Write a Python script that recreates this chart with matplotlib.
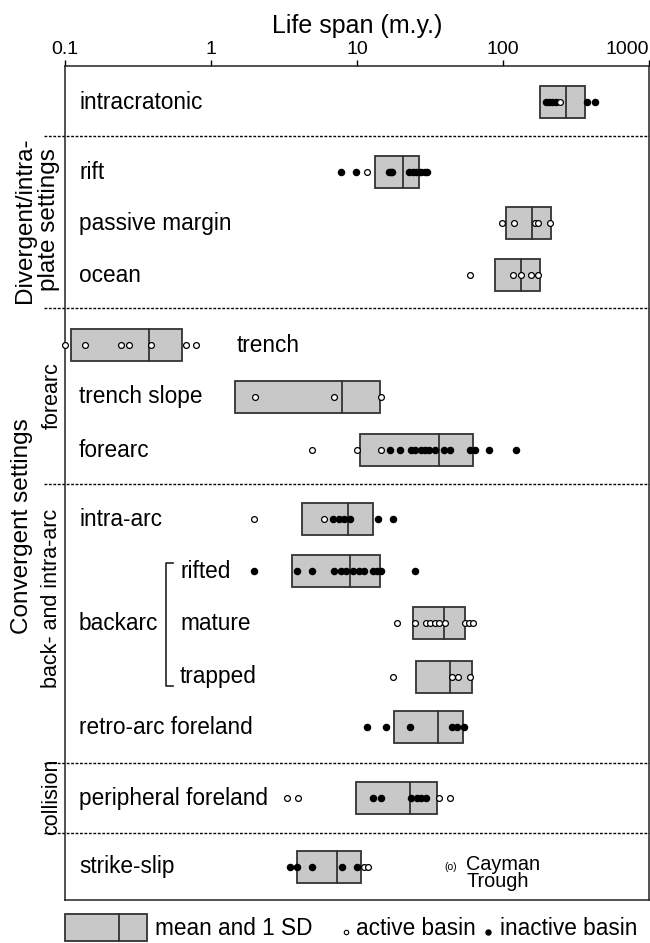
import matplotlib
matplotlib.use('Agg')
import matplotlib.pyplot as plt
import matplotlib.transforms as mtransforms
from matplotlib.patches import Rectangle
from matplotlib.lines import Line2D

plt.rcParams['font.family'] = ['Liberation Sans', 'DejaVu Sans']

# basin types, top to bottom
categories = ['intracratonic', 'rift', 'passive margin', 'ocean', 'trench', 'trench slope', 'forearc',
              'intra-arc', 'rifted', 'mature', 'trapped', 'retro-arc foreland', 'peripheral foreland',
              'strike-slip']

# mean and 1 SD range of life span (m.y.)
means = [272, 20.5, 159, 132, 0.377, 7.84, 36.2, 8.65, 9.0, 39.7, 43.5, 36.0, 22.9, 7.35]
sd_low = [179, 13.3, 105, 88, 0.11, 1.45, 10.5, 4.2, 3.56, 24.1, 25.2, 17.8, 9.8, 3.91]
sd_high = [364, 26.6, 212, 178, 0.63, 14.3, 62.1, 12.8, 14.3, 55.2, 60.9, 53.1, 35.1, 10.6]

# individual basins
active = [
    [244],
    [11.8],
    [98, 119, 166, 175, 211],
    [59, 117, 132, 155, 173],
    [0.1, 0.138, 0.243, 0.275, 0.39, 0.67, 0.79],
    [1.99, 6.92, 14.7],
    [4.92, 9.93, 14.7],
    [1.97, 5.95],
    [],
    [18.7, 24.8, 29.8, 31.8, 34.0, 36.2, 40.0, 54.5, 58.2, 62.5],
    [17.7, 44.8, 49.4, 59.3],
    [],
    [3.30, 3.94, 36.2, 43.2],
    [11.1, 11.9],
]
inactive = [
    [197, 207, 218, 229, 375, 425],
    [7.8, 9.9, 16.6, 17.0, 17.5, 22.8, 24.0, 25.2, 26.4, 27.6, 29.0, 30.3],
    [],
    [],
    [],
    [],
    [16.7, 19.8, 23.3, 24.9, 27.3, 29.3, 31.2, 34.0, 39.5, 43.2, 59.3, 64.1, 79.7, 123],
    [6.83, 7.54, 8.21, 8.94, 13.9, 17.7],
    [1.97, 3.91, 4.89, 6.92, 7.74, 8.37, 9.36, 10.3, 11.1, 12.9, 13.8, 14.5, 24.8],
    [],
    [],
    [11.8, 15.7, 22.9, 44.8, 48.7, 53.7],
    [12.8, 14.7, 23.6, 25.6, 27.5, 29.9],
    [3.47, 3.91, 4.92, 7.89, 9.93],
]
cayman_trough = 43.5

ticks = [0.1, 1, 10, 100, 1000]
tick_labels = ['0.1', '1', '10', '100', '1000']

# layout (pixels below axes top)
row_y = [36, 106, 157, 209, 279, 331, 384, 453, 505, 557, 611, 661, 732, 801]
sep_y = [70, 242, 418, 697, 767]
box_h = 32
W, H = 650, 943

fig = plt.figure(figsize=(W / 100, H / 100), dpi=100)
ax = fig.add_axes([65 / W, 1 - 900 / H, 584 / W, 834 / H])
ax.set_xscale('log')
ax.set_xlim(0.1, 1000)
ax.set_ylim(834, 0)

edge = '#333333'
for i, cat in enumerate(categories):
    y = row_y[i]
    ax.barh(y, sd_high[i] - sd_low[i], left=sd_low[i], height=box_h,
            color='#c8c8c8', edgecolor=edge, linewidth=1.3, zorder=2)
    ax.plot([means[i], means[i]], [y - box_h / 2, y + box_h / 2], color=edge, lw=1.3, zorder=3)
    if inactive[i]:
        ax.plot(inactive[i], [y] * len(inactive[i]), 'o', ms=4.4, mfc='black', mec='black',
                zorder=4, clip_on=False)
    if active[i]:
        ax.plot(active[i], [y] * len(active[i]), 'o', ms=4.2, mfc='white', mec='black',
                mew=0.9, zorder=5, clip_on=False)

# row labels
trans = mtransforms.blended_transform_factory(ax.transAxes, ax.transData)
lab_fs = 16.3
for i, cat in enumerate(categories):
    if cat == 'trench':
        ax.text(1.5, row_y[i], cat, fontsize=lab_fs, va='center', ha='left')
    elif cat in ('rifted', 'mature', 'trapped'):
        ax.text(0.197, row_y[i], cat, fontsize=lab_fs, va='center', ha='left', transform=trans)
    else:
        ax.text(0.024, row_y[i], cat, fontsize=lab_fs, va='center', ha='left', transform=trans)
ax.text(0.024, row_y[categories.index('mature')], 'backarc', fontsize=lab_fs, va='center',
        ha='left', transform=trans)

# backarc bracket
y0, y1 = 497, 620
ax.plot([0.185, 0.173, 0.173, 0.185], [y0, y0, y1, y1], color='#222222', lw=1.2,
        transform=trans, clip_on=False)

# Cayman Trough note
sy = row_y[categories.index('strike-slip')]
ax.text(cayman_trough, sy, '(o)', fontsize=7.5, ha='center', va='center')
ax.text(56, sy + 6, 'Cayman\nTrough', fontsize=14.3, ha='left', va='center', linespacing=0.85)

# group separators
for s in sep_y:
    ax.plot([-0.036, 1], [s, s], color='black', lw=1.0, ls=(0, (2.0, 1.2)),
            transform=trans, clip_on=False, zorder=1)

# axes
ax.xaxis.tick_top()
ax.set_xticks(ticks)
ax.set_xticklabels(tick_labels)
ax.minorticks_off()
ax.set_yticks([])
ax.tick_params(axis='x', which='major', direction='out', length=4.5, width=1.0, pad=1.5,
               labelsize=14, colors='black')
for lbl in ax.get_xticklabels()[-1:]:
    lbl.set_ha('right')
for sp in ax.spines.values():
    sp.set_color('#222222')
    sp.set_linewidth(1.1)

fig.text(357 / W, 1 - 33 / H, 'Life span (m.y.)', fontsize=18, ha='center', va='baseline')

# group labels
fig.text(37 / W, 1 - 220 / H, 'Divergent/intra-\nplate settings', fontsize=17.5, rotation=90,
         ha='center', va='center', multialignment='center', linespacing=1.15)
fig.text(22 / W, 1 - 526 / H, 'Convergent settings', fontsize=17.5, rotation=90,
         ha='center', va='center')
fig.text(52 / W, 1 - 396 / H, 'forearc', fontsize=15.5, rotation=90, ha='center', va='center')
fig.text(52 / W, 1 - 598 / H, 'back- and intra-arc', fontsize=15.5, rotation=90,
         ha='center', va='center')
fig.text(52 / W, 1 - 797 / H, 'collision', fontsize=15.5, rotation=90, ha='center', va='center')

# legend
fig.add_artist(Rectangle((65 / W, 1 - 941 / H), 82 / W, 27 / H, transform=fig.transFigure,
                         facecolor='#c8c8c8', edgecolor=edge, linewidth=1.3))
fig.add_artist(Line2D([119 / W, 119 / W], [1 - 941 / H, 1 - 914 / H], transform=fig.transFigure,
                      color=edge, lw=1.3))
fig.text(155 / W, 1 - 935 / H, 'mean and 1 SD', fontsize=16.3, ha='left', va='baseline')
fig.add_artist(Line2D([346 / W], [1 - 932 / H], marker='o', ms=3.2, mfc='white', mec='black',
                      mew=0.8, transform=fig.transFigure))
fig.text(356 / W, 1 - 935 / H, 'active basin', fontsize=16.3, ha='left', va='baseline')
fig.add_artist(Line2D([488 / W], [1 - 932 / H], marker='o', ms=3.6, mfc='black', mec='black',
                      transform=fig.transFigure))
fig.text(500 / W, 1 - 935 / H, 'inactive basin', fontsize=16.3, ha='left', va='baseline')

fig.savefig('out.png', dpi=100)
